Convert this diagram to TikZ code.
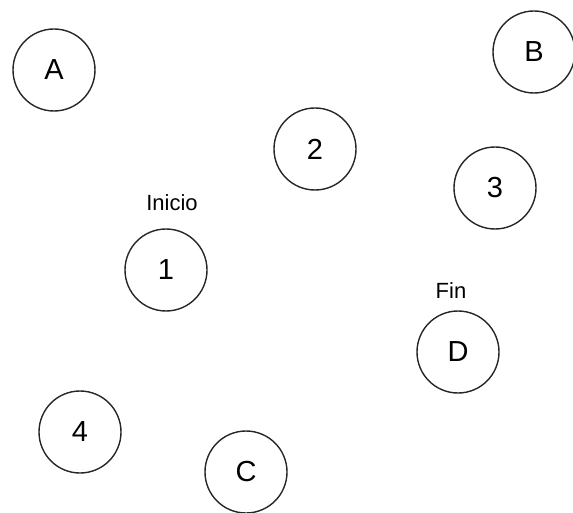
\documentclass[tikz,border=0pt]{standalone}
\usepackage{fontspec}
\setmainfont{Liberation Sans}
\begin{document}
\begin{tikzpicture}[x=1pt,y=-1pt,
  state/.style={circle,draw=black!85,line width=1.4pt,minimum size=82pt,inner sep=0pt,font=\fontsize{29}{34}\selectfont},
  tag/.style={font=\fontsize{22}{26}\selectfont,inner sep=0pt}]
\useasboundingbox (0,0) rectangle (573,513);
\node[state] (A) at (54,70) {A};
\node[state] (B) at (534,52) {B};
\node[state] (n2) at (315,149) {2};
\node[state] (n3) at (495,188) {3};
\node[state] (n1) at (166,270) {1};
\node[state] (D) at (458,352) {D};
\node[state] (n4) at (80,432) {4};
\node[state] (C) at (246,472) {C};
\node[tag] (inicio) at (172,203) {Inicio};
\node[tag] (fin) at (451,291) {Fin};
\end{tikzpicture}
\end{document}
